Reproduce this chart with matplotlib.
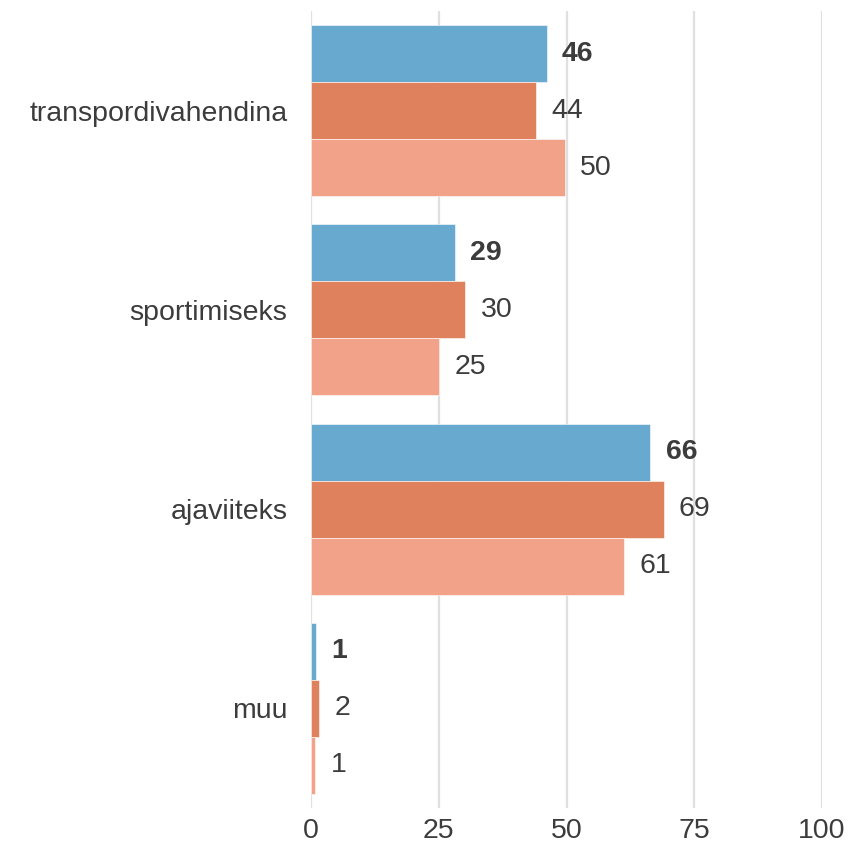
import matplotlib
matplotlib.use("Agg")
import matplotlib.pyplot as plt
import numpy as np

categories = ["transpordivahendina", "sportimiseks", "ajaviiteks", "muu"]
series_1 = [46.1, 28.2, 66.4, 1.0]
series_2 = [44.0, 30.2, 69.0, 1.6]
series_3 = [49.7, 25.1, 61.2, 0.8]
labels_1 = [46, 29, 66, 1]
labels_2 = [44, 30, 69, 2]
labels_3 = [50, 25, 61, 1]
x_ticks = [0, 25, 50, 75, 100]

colors = ["#67A9CF", "#E0815D", "#F1A289"]
text_col = "#3C3C3C"

plt.rcParams['font.family'] = ['Liberation Sans', 'DejaVu Sans']

W, H = 848, 847
fig = plt.figure(figsize=(W / 100, H / 100), dpi=100)
ax = fig.add_axes([311 / W, (H - 808) / H, (822 - 311) / W, (808 - 11) / H])

y = np.arange(len(categories))
bh = 0.286
all_series = [series_1, series_2, series_3]
all_labels = [labels_1, labels_2, labels_3]
for i, (vals, labs) in enumerate(zip(all_series, all_labels)):
    pos = y + (i - 1) * bh
    ax.barh(pos, vals, height=bh, color=colors[i], edgecolor="white",
            linewidth=0.4, zorder=2)
    for p, v, l in zip(pos, vals, labs):
        ax.text(v + 3, p, str(l), va="center", ha="left", fontsize=20.5,
                color=text_col, fontweight="bold" if i == 0 else "normal")

ax.set_xlim(0, 100)
ax.set_ylim(3.5, -0.5)
ax.set_xticks(x_ticks)
ax.set_xticklabels([str(t) for t in x_ticks])
ax.set_yticks(y)
ax.set_yticklabels(categories)
ax.tick_params(axis="both", length=0, labelsize=20.5, labelcolor=text_col)
ax.tick_params(axis="y", pad=17)
ax.tick_params(axis="x", pad=7)
ax.grid(axis="x", color="#E0E0E0", linewidth=1.6, zorder=0)
ax.grid(axis="y", visible=False)
ax.set_axisbelow(True)
for s in ax.spines.values():
    s.set_visible(False)

fig.savefig("out.png", dpi=100)
